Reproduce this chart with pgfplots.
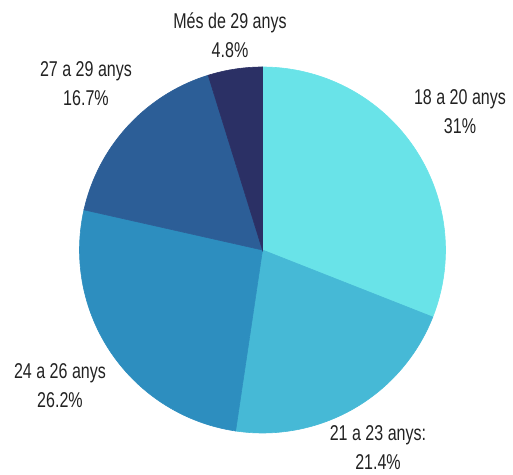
\documentclass[border=0pt]{standalone}
\usepackage{pgfplots}
\pgfplotsset{compat=1.18}
\usepackage{fontspec}
\setmainfont{Liberation Sans}[FakeStretch=0.75]
\definecolor{cA}{HTML}{69E3E8}
\definecolor{cB}{HTML}{46B9D6}
\definecolor{cC}{HTML}{2D8EBF}
\definecolor{cD}{HTML}{2C5E97}
\definecolor{cE}{HTML}{2B3065}
\definecolor{txt}{HTML}{222222}
\begin{document}
\begin{tikzpicture}
% data: share of each age group (%)
\def\vA{31}\def\vB{21.4}\def\vC{26.2}\def\vD{16.7}\def\vE{4.8}
\pgfmathsetmacro\tot{\vA+\vB+\vC+\vD+\vE}
\pgfmathsetmacro\kk{360/\tot}
\pgfmathsetmacro\tA{90}
\pgfmathsetmacro\tB{\tA-\kk*\vA}
\pgfmathsetmacro\tC{\tB-\kk*\vB}
\pgfmathsetmacro\tD{\tC-\kk*\vC}
\pgfmathsetmacro\tE{\tD-\kk*\vD}
\pgfmathsetmacro\tF{\tE-\kk*\vE}
\begin{axis}[hide axis, scale only axis, width=256.5pt, height=237.5pt,
  xmin=0, xmax=513, ymin=0, ymax=475, clip=false,
  every axis plot/.append style={line width=0.3pt, samples=100}]
\addplot[fill=cA, draw=cA, domain=\tB:\tA] ({262.5+183*cos(x)},{225+183*sin(x)}) -- (axis cs:262.5,225) -- cycle;
\addplot[fill=cB, draw=cB, domain=\tC:\tB] ({262.5+183*cos(x)},{225+183*sin(x)}) -- (axis cs:262.5,225) -- cycle;
\addplot[fill=cC, draw=cC, domain=\tD:\tC] ({262.5+183*cos(x)},{225+183*sin(x)}) -- (axis cs:262.5,225) -- cycle;
\addplot[fill=cD, draw=cD, domain=\tE:\tD] ({262.5+183*cos(x)},{225+183*sin(x)}) -- (axis cs:262.5,225) -- cycle;
\addplot[fill=cE, draw=cE, domain=\tF:\tE] ({262.5+183*cos(x)},{225+183*sin(x)}) -- (axis cs:262.5,225) -- cycle;
\tikzset{lab/.style={align=center, text=txt, font=\fontsize{10.7}{14.5}\selectfont, inner sep=0pt}}
\node[lab] at (axis cs:230,440) {Més de 29 anys\\4.8\%};
\node[lab] at (axis cs:460,363) {18 a 20 anys\\31\%};
\node[lab] at (axis cs:86,391) {27 a 29 anys\\16.7\%};
\node[lab] at (axis cs:60,89) {24 a 26 anys\\26.2\%};
\node[lab] at (axis cs:378,27) {21 a 23 anys:\\21.4\%};
\path (axis cs:0,0) (axis cs:513,475);
\end{axis}
\end{tikzpicture}
\end{document}
